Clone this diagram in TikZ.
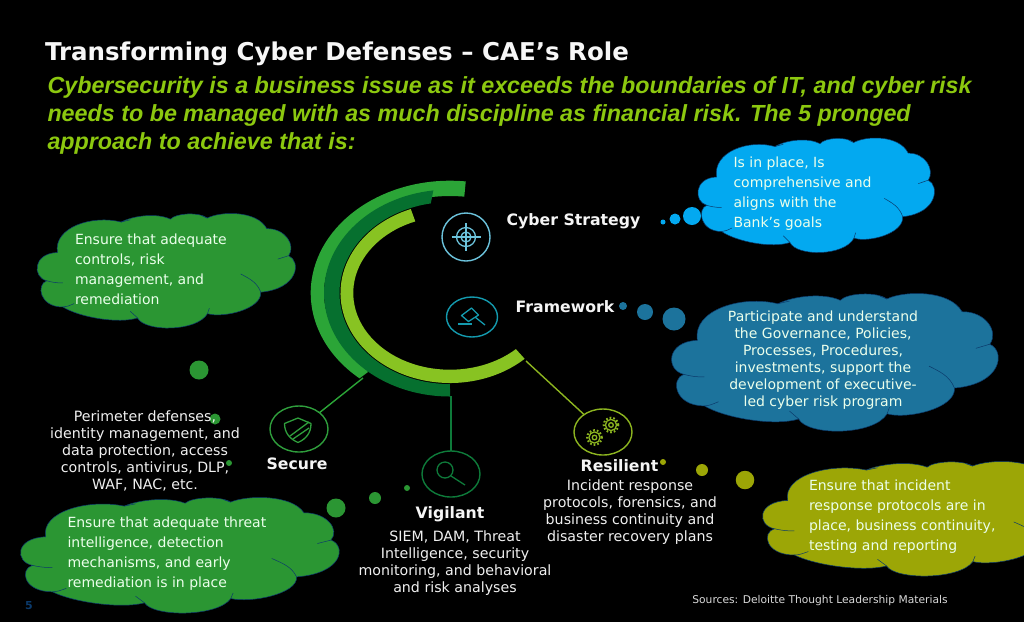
\documentclass[tikz,border=0pt]{standalone}
\usepackage{fontspec}
\setmainfont{DejaVu Sans}
\newfontfamily\headfont{Liberation Sans}
\usetikzlibrary{shapes.geometric}
\definecolor{cskyb}{HTML}{03A9F0}
\definecolor{cdeepb}{HTML}{1C739C}
\definecolor{cgrn}{HTML}{2B9633}
\definecolor{colive}{HTML}{9CA606}
\definecolor{clime}{HTML}{88C322}
\definecolor{csub}{HTML}{8CC80F}
\definecolor{cdark}{HTML}{06702F}
\definecolor{clight}{HTML}{2BA537}
\definecolor{cedge}{HTML}{0B3A6B}
\definecolor{cicoc}{HTML}{6CC3DC}
\definecolor{cicot}{HTML}{149AAE}
\definecolor{cicog}{HTML}{2F9E3C}
\definecolor{cicod}{HTML}{0E7A3A}
\definecolor{cicol}{HTML}{8DB520}
\tikzset{
  every node/.style={inner sep=0pt,outer sep=0pt},
  bodytext/.style={text=white!94!black,font=\fontsize{14.2}{17}\selectfont,align=center},
  cloudtext/.style={text=white!92!green,font=\fontsize{14}{20}\selectfont,align=left},
  bigtext/.style={text=white!96!black,font=\fontsize{15.7}{18}\bfseries\selectfont},
  icon/.style={draw,ellipse,line width=1.4pt,minimum width=58pt,minimum height=46pt},
  glyph/.style={line width=1.3pt,line join=round}
}
\newcommand{\cloudat}[5]{%
\begin{scope}[shift={(#1,#2)},x=#3pt,y=-#4pt]
\fill[#5,draw=cedge,line width=.5pt] (.086,.342)
 .. controls (.07,.12) and (.22,.01) .. (.33,.075)
 .. controls (.38,.015) and (.47,-.005) .. (.519,.05)
 .. controls (.54,-.005) and (.63,-.015) .. (.66,.04)
 .. controls (.71,-.02) and (.85,-.03) .. (.888,.133)
 .. controls (.96,.13) and (1.0,.28) .. (.972,.37)
 .. controls (1.02,.42) and (1.01,.66) .. (.865,.69)
 .. controls (.87,.84) and (.72,.92) .. (.661,.878)
 .. controls (.62,1.04) and (.42,1.04) .. (.393,.916)
 .. controls (.32,.97) and (.17,.91) .. (.107,.82)
 .. controls (.015,.82) and (.005,.62) .. (.045,.59)
 .. controls (-.01,.56) and (-.01,.35) .. (.086,.342) -- cycle;
\draw[cedge,line width=.5pt]
 (.045,.59) .. controls (.06,.60) and (.08,.61) .. (.107,.609)
 (.107,.82) .. controls (.12,.82) and (.13,.81) .. (.15,.79)
 (.972,.37) -- (.93,.40)
 (.865,.69) .. controls (.85,.6) and (.82,.57) .. (.788,.53)
 (.661,.878) -- (.668,.83)
 (.393,.916) -- (.365,.858)
 (.33,.075) -- (.365,.055)
 (.66,.04) -- (.64,.02);
\end{scope}}
\begin{document}
\begin{tikzpicture}[x=1pt,y=-1pt]
\useasboundingbox (0,0) rectangle (1024,622);
\fill[black] (0,0) rectangle (1024,622);

% titles
\node[anchor=base west,text=white!97!black,font=\fontsize{24.5}{30}\bfseries\selectfont] (title) at (45,60.5) {Transforming Cyber Defenses – CAE’s Role};
\node[anchor=north west,text=csub,align=left,font=\headfont\fontsize{23.3}{28}\bfseries\itshape\selectfont] (subtitle) at (47.5,77) {Cybersecurity is a business issue as it exceeds the boundaries of IT, and cyber risk\\needs to be managed with as much discipline as financial risk. The 5 pronged\\approach to achieve that is:};

% rings
\fill[clight] (450,293) ++(83.5:139.3pt and 112.3pt) arc[start angle=83.5,end angle=229.5,x radius=139.3pt,y radius=112.3pt]
  -- (368,372) -- (360.9,361.6) arc[start angle=225,end angle=83.5,x radius=126pt,y radius=97pt] -- cycle;
\fill[cdark] (450,293) ++(270:126pt and 103.5pt) arc[start angle=270,end angle=97.6,x radius=126pt,y radius=103.5pt]
  -- (430.8,203.4) arc[start angle=100,end angle=270,x radius=110.5pt,y radius=91pt] -- cycle;
\fill[clime] (450,293) ++(111:109.5pt and 90pt) arc[start angle=111,end angle=313,x radius=109.5pt,y radius=90pt]
  -- (515.9,349.1) arc[start angle=313,end angle=111,x radius=96.7pt,y radius=76.7pt] -- cycle;

% anchors of the connectors on the rings
\coordinate (ringS) at (363,378);
\coordinate (ringV) at (451,396);
\coordinate (ringR) at (526,361);

% icons
\node[icon,draw=cicoc,minimum width=48pt,minimum height=48pt] (strategy) at (466,237) {};
\node[icon,draw=cicot,minimum width=51pt,minimum height=40pt] (framework) at (472,317) {};
\node[icon,draw=cicog] (secure) at (299,429) {};
\node[icon,draw=cicod] (vigilant) at (451,474) {};
\node[icon,draw=cicol] (resilient) at (603,432) {};

\draw[clight,line width=1.4pt] (ringS) -- (secure);
\draw[cicod,line width=1.4pt] (ringV) -- (vigilant);
\draw[cicol,line width=1.4pt] (ringR) -- (resilient);

% target glyph
\begin{scope}[cicoc,glyph]
\draw (strategy.center) circle[radius=9.5pt] circle[radius=5pt];
\draw (451.5,237) -- (480.5,237) (466,223) -- (466,251);
\end{scope}
% hammer glyph
\begin{scope}[cicot,glyph,shift={(430,205)}]
\draw (31.5,110.5) -- (41.5,103) -- (48.5,110) -- (38.5,116.5) -- cycle;
\draw (45,112) -- (55,120);
\draw (28,119) -- (42,119);
\end{scope}
% shield glyph
\begin{scope}[cicog,glyph,shift={(260,395)}]
\draw (24.5,28.5) -- (38,23) -- (51,28.5) .. controls (51,38) and (46,44) .. (38,47.5) .. controls (30,44) and (24.5,38) .. (24.5,28.5) -- cycle;
\draw (30,41) -- (49,27) (33,44) -- (49,33);
\end{scope}
% lens glyph
\begin{scope}[cicod,glyph]
\draw (445,470) circle[radius=8pt];
\draw (451,476) -- (465,485);
\end{scope}
% gears glyph
\begin{scope}[cicol,glyph]
\draw (594.5,437.5) circle[radius=2.3pt] circle[radius=5.6pt];
\draw[line width=2pt,dash pattern=on 1.7pt off 2pt] (594.5,437.5) circle[radius=7.3pt];
\draw (611,425) circle[radius=2.3pt] circle[radius=5.6pt];
\draw[line width=2pt,dash pattern=on 1.7pt off 2pt] (611,425) circle[radius=7.3pt];
\end{scope}

% big labels
\node[bigtext,anchor=base] (lblstrategy) at (573.5,225) {Cyber Strategy};
\node[bigtext,anchor=base] (lblframe) at (565,312) {Framework};
\node[bigtext,anchor=base] (lblsecure) at (297,469) {Secure};
\node[bigtext,anchor=base] (lblvigil) at (450,518) {Vigilant};
\node[bigtext,anchor=base] (lblresil) at (619.5,471) {Resilient};

% clouds
\cloudat{696}{138}{239}{114}{cskyb}
\cloudat{35}{213.5}{261}{114}{cgrn}
\cloudat{669}{293.5}{330}{137}{cdeepb}
\cloudat{18}{497.5}{322}{115}{cgrn}
\cloudat{760}{461.5}{322}{114}{colive}

% thought puffs
\foreach \px/\py/\pd/\pc in {663/222/5/cskyb,675/219/11/cskyb,692/216/18/cskyb,
  623/306/8/cdeepb,645/312/16/cdeepb,674/319/23/cdeepb,
  663/462/6/colive,702/470/12/colive,745/480/18.5/colive,
  199/370/19/cgrn,215/419/11/cgrn,229/463/6/cgrn,
  336/508/19/cgrn,375/498/12/cgrn,407/488/6/cgrn}
  {\fill[\pc] (\px,\py) circle[radius=\pd/2*1pt];}

% cloud texts
\node[cloudtext,anchor=west] (t1) at (733.5,194) {Is in place, Is\\comprehensive and\\aligns with the\\Bank’s goals};
\node[cloudtext,anchor=west] (t2) at (75,269) {Ensure that adequate\\controls, risk\\management, and\\remediation};
\node[cloudtext,anchor=center,align=center,font=\fontsize{14}{17}\selectfont] (t3) at (823,360) {Participate and understand\\the Governance, Policies,\\Processes, Procedures,\\investments, support the\\development of executive-\\led cyber risk program};
\node[cloudtext,anchor=west] (t4) at (67.5,554) {Ensure that adequate threat\\intelligence, detection\\mechanisms, and early\\remediation is in place};
\node[cloudtext,anchor=west] (t5) at (809,517) {Ensure that incident\\response protocols are in\\place, business continuity,\\testing and reporting};

% body texts
\node[bodytext] (b1) at (145,451) {Perimeter defenses,\\identity management, and\\data protection, access\\controls, antivirus, DLP,\\WAF, NAC, etc.};
\node[bodytext] (b2) at (455,563) {SIEM, DAM, Threat\\Intelligence, security\\monitoring, and behavioral\\and risk analyses};
\node[bodytext] (b3) at (630,512) {Incident response\\protocols, forensics, and\\business continuity and\\disaster recovery plans};

\node[text=white!85!black,font=\fontsize{10.7}{13}\selectfont] (src) at (820,601) {Sources: Deloitte Thought Leadership Materials};
\node[text=cedge,font=\fontsize{11}{13}\bfseries\selectfont] (pg) at (29,606) {5};
\end{tikzpicture}
\end{document}
